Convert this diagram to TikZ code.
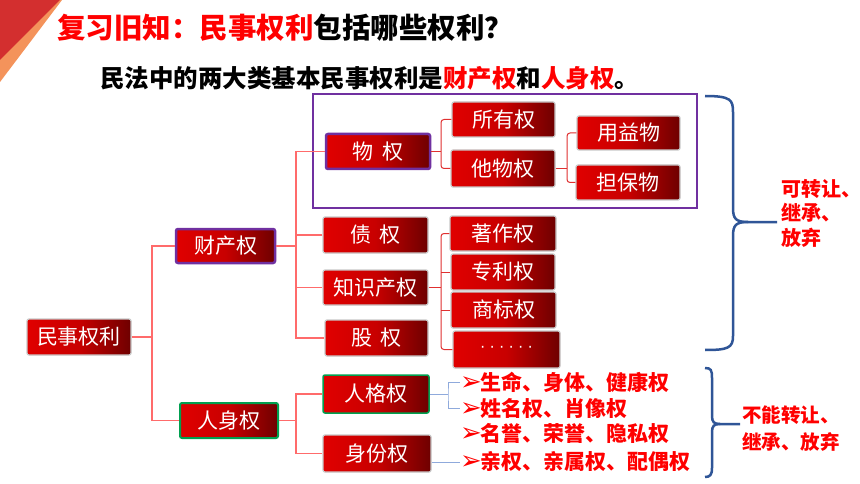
\documentclass[tikz,border=0pt]{standalone}
\usepackage{fontspec}
\newfontfamily\cjk{Noto Sans CJK SC}
\newfontfamily\dejavu{DejaVu Sans}
\definecolor{tred}{HTML}{FF0000}
\definecolor{lred}{HTML}{E00000}
\definecolor{mred}{HTML}{C80000}
\definecolor{dred}{HTML}{6E0000}
\definecolor{boxgray}{HTML}{C8C8C8}
\definecolor{purp}{HTML}{7030A0}
\definecolor{grn}{HTML}{00A050}
\definecolor{lnred}{HTML}{FF6B6B}
\definecolor{thred}{HTML}{E03030}
\definecolor{lblue}{HTML}{8FAADC}
\definecolor{bblue}{HTML}{2F5597}
\definecolor{cornred}{HTML}{D32F2F}
\definecolor{cornor}{HTML}{F4935B}
\newcommand{\bularrow}{\smash{\dejavu\fontsize{26pt}{21pt}\selectfont ➢}\kern-1pt}
\begin{document}
\begin{tikzpicture}[x=1pt,y=-1pt,
  box/.style={draw=boxgray, line width=1.2pt, rounded corners=2pt,
    left color=lred, right color=dred, middle color=mred, text=white,
    font=\cjk\fontsize{21pt}{21pt}\selectfont, inner sep=0pt,
    minimum width=104pt, minimum height=35pt},
  pbox/.style={box, draw=purp, line width=2.5pt},
  gbox/.style={box, draw=grn, line width=2pt},
  conn/.style={draw=lnred, line width=1.5pt},
  tconn/.style={draw=thred, line width=1pt, rounded corners=3pt},
  bconn/.style={draw=lblue, line width=1pt},
  brc/.style={draw=bblue, line width=2.5pt},
  bul/.style={anchor=west, text=tred, inner sep=0pt,
    font=\cjk\bfseries\fontsize{21pt}{21pt}\selectfont},
  note/.style={anchor=west, text=tred, inner sep=0pt, align=left}
]
\useasboundingbox (0,0) rectangle (860,484);
\fill[white] (0,0) rectangle (860,484);
% corner decoration
\fill[cornor] (0,0) -- (62,0) -- (0,82) -- cycle;
\fill[cornred] (0,0) -- (60,0) -- (0,60) -- cycle;
% titles
\node[anchor=west, inner sep=0pt, font=\cjk\bfseries\fontsize{28.5pt}{29pt}\selectfont] (title) at (57,28)
  {\textcolor{tred}{复习旧知：民事权利}包括哪些权利？};
\node[anchor=west, inner sep=0pt, font=\cjk\bfseries\fontsize{24.5pt}{25pt}\selectfont] (sub) at (100,78)
  {民法中的两大类基本民事权利是\textcolor{tred}{财产权}和\textcolor{tred}{人身权}。};
% purple frame
\draw[purp, line width=2.5pt] (313,94) rectangle (697,208);
% boxes
\node[box, minimum width=104pt, minimum height=36pt] (m) at (79,337) {民事权利};
\node[pbox, minimum width=99pt, minimum height=34pt] (cc) at (225.5,246) {财产权};
\node[gbox, minimum width=98pt, minimum height=35pt] (rs) at (229,420.5) {人身权};
\node[pbox, minimum width=104pt] (wq) at (378,151.5) {物\hspace{9pt}权};
\node[box, minimum width=105pt, minimum height=36pt] (zq) at (375.5,235) {债\hspace{9pt}权};
\node[box, minimum width=105pt] (zs) at (375.5,287.5) {知识产权};
\node[box, minimum width=103pt, minimum height=36pt] (gq) at (376.5,338) {股\hspace{9pt}权};
\node[box, draw=grn, line width=1.5pt, minimum width=106pt, minimum height=38pt] (rg) at (376,394) {人格权};
\node[box, minimum width=108pt, minimum height=37pt] (sf) at (377,453.5) {身份权};
\node[box, minimum width=103pt] (sy) at (503.5,119.5) {所有权};
\node[box, minimum width=104pt, minimum height=37pt] (tw) at (503,168.5) {他物权};
\node[box, minimum width=103pt, minimum height=34pt] (yy) at (628.5,133) {用益物};
\node[box, minimum width=104pt] (db) at (628,182.5) {担保物};
\node[box, minimum width=106pt] (zz) at (503,233.5) {著作权};
\node[box, minimum width=104pt, minimum height=36pt] (zl) at (503,272) {专利权};
\node[box, minimum width=105pt, minimum height=36pt] (sb) at (503.5,310) {商标权};
\node[box, minimum width=107pt, minimum height=37pt] (dd) at (506.5,349.5)
  {\dejavu\fontsize{15pt}{15pt}\selectfont · · · · · ·};
% main connectors
\coordinate (t1) at (152,337);
\draw[conn] (m.east) -- (t1);
\draw[conn] (cc.west) -| (t1) |- (rs.west);
\coordinate (t2) at (296,246);
\draw[conn] (cc.east) -- (t2);
\draw[conn] (wq.west) -| (t2) |- (gq.west);
\draw[conn] (zq.west) -- (t2 |- zq.west);
\draw[conn] (zs.west) -- (t2 |- zs.west);
\coordinate (t3) at (296,420.5);
\draw[conn] (rs.east) -- (t3);
\draw[conn] (rg.west) -| (t3) |- (sf.west);
% thin brackets
\coordinate (t4) at (441,151.5);
\draw[tconn] (wq.east) -- (t4);
\draw[tconn] (sy.west) -| (t4) |- (tw.west);
\coordinate (t5) at (567,168.5);
\draw[tconn] (tw.east) -- (t5);
\draw[tconn] (yy.west) -| (t5) |- (db.west);
\coordinate (t6) at (441,287.5);
\draw[tconn] (zs.east) -- (t6);
\draw[tconn] (zz.west) -| (t6) |- (dd.west);
\draw[tconn] (zl.west) -- (t6 |- zl.west);
\draw[tconn] (sb.west) -- (t6 |- sb.west);
% bullets
\node[bul] (b1) at (460,382) {\bularrow 生命、身体、健康权};
\node[bul] (b2) at (460,408) {\bularrow 姓名权、肖像权};
\node[bul] (b3) at (460,433) {\bularrow 名誉、荣誉、隐私权};
\node[bul] (b4) at (460,462) {\bularrow 亲权、亲属权、配偶权};
\coordinate (t7) at (448,394);
\draw[bconn] (rg.east) -- (t7);
\draw[bconn] (b1.west) -| (t7) |- (b2.west);
\draw[bconn] (sf.east |- b4.west) -- (b4.west);
% braces
\draw[brc] (705,96) .. controls (731,96) and (733,100) .. (733,112) -- (733,208)
  .. controls (733,219) and (736,222) .. (748,222) -- (777,222) coordinate (tipA);
\draw[brc] (748,222) .. controls (736,222) and (733,225) .. (733,236) -- (733,336)
  .. controls (733,348) and (728,350) .. (705,350);
\node[note, font=\cjk\bfseries\fontsize{20pt}{24.5pt}\selectfont] (na) at ([xshift=4pt,yshift=9pt]tipA)
  {可转让、\kern-4pt\\继承、\\放弃};
\draw[brc] (705,368) .. controls (711,368) and (712,370) .. (712,378) -- (712,416)
  .. controls (712,422) and (714,424) .. (720,424) -- (740,424) coordinate (tipB);
\draw[brc] (720,424) .. controls (714,424) and (712,426) .. (712,432) -- (712,468)
  .. controls (712,475) and (710,477) .. (705,477);
\node[note, font=\cjk\bfseries\fontsize{19.5pt}{27pt}\selectfont] (nb) at ([xshift=2pt,yshift=-4.5pt]tipB)
  {不能转让、\\继承、放弃};
\end{tikzpicture}
\end{document}
